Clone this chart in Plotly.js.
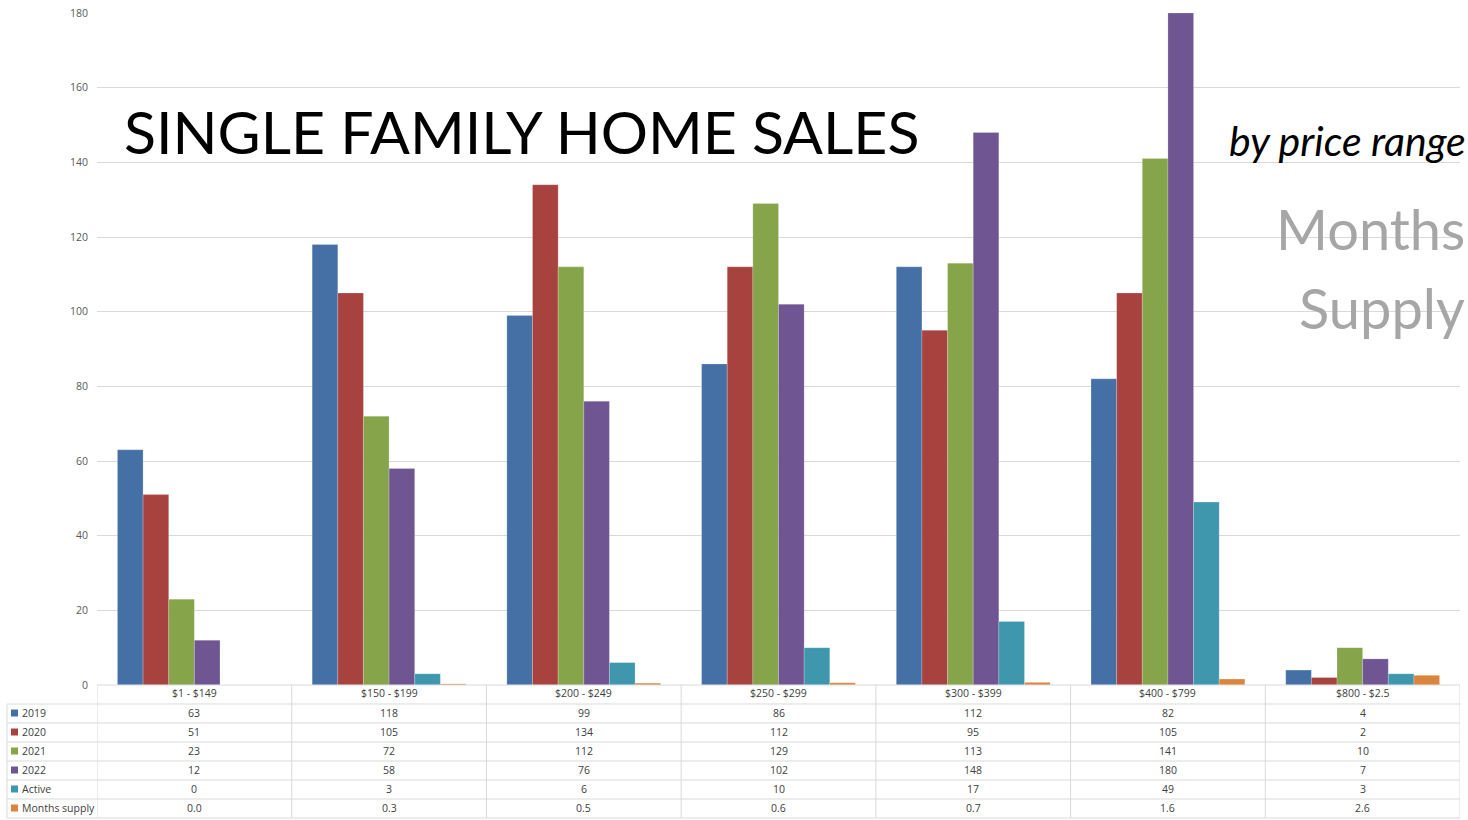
<!DOCTYPE html>
<html><head><meta charset="utf-8">
<script src="https://cdn.plot.ly/plotly-3.0.1.min.js"></script>
<style>html,body{margin:0;padding:0;background:#fff}#chart{width:1468px;height:820px}</style>
</head><body><div id="chart"></div>
<script>
var categories = ["$1 - $149", "$150 - $199", "$200 - $249", "$250 - $299", "$300 - $399", "$400 - $799", "$800 - $2.5"];
var sales2019 = [63, 118, 99, 86, 112, 82, 4];
var sales2020 = [51, 105, 134, 112, 95, 105, 2];
var sales2021 = [23, 72, 112, 129, 113, 141, 10];
var sales2022 = [12, 58, 76, 102, 148, 180, 7];
var active = [0, 3, 6, 10, 17, 49, 3];
var monthsSupply = [0.0, 0.3, 0.5, 0.6, 0.7, 1.6, 2.6];
var seriesNames = ["2019", "2020", "2021", "2022", "Active", "Months supply"];
var yTicks = [0, 20, 40, 60, 80, 100, 120, 140, 160, 180];

var colors = ["#4470a5", "#a8423f", "#86a44a", "#6f5592", "#3e97ad", "#db843d"];
var seriesData = [sales2019, sales2020, sales2021, sales2022, active, monthsSupply];

var L = 97, R = 1460, T = 13, B = 685;
function px(x){ return (x - L) / (R - L); }
function py(y){ return (B - y) / (B - T); }

var traces = seriesData.map(function(d, i){
  return {type: "bar", x: categories, y: d, name: seriesNames[i],
    marker: {color: colors[i], line: {color: "rgba(255,255,255,0.35)", width: 0.6}},
    hoverinfo: "x+y+name"};
});

var shapes = [], annotations = [];
var rowTops = [685, 704, 723, 742, 761, 780, 799, 818];
var gridCol = "#d9d9d9";
for (var r = 0; r < rowTops.length; r++) {
  shapes.push({type: "line", xref: "paper", yref: "paper",
    x0: r === 0 ? 0 : px(7), x1: 1, y0: py(rowTops[r]), y1: py(rowTops[r]),
    line: {color: gridCol, width: 1}});
}
shapes.push({type: "line", xref: "paper", yref: "paper", x0: px(7), x1: px(7), y0: py(704), y1: py(818), line: {color: gridCol, width: 1}});
for (var c = 0; c <= categories.length; c++) {
  shapes.push({type: "line", xref: "x", yref: "paper", x0: c - 0.5, x1: c - 0.5,
    y0: py(685), y1: py(818), line: {color: gridCol, width: 1}});
}
var tf = {family: "Open Sans, Lato, sans-serif", size: 10.5, color: "#404040"};
categories.forEach(function(cat, i){
  annotations.push({xref: "x", yref: "paper", x: i, y: py(693), text: cat.replace(/\$/g, "&#36;"),
    showarrow: false, xanchor: "center", yanchor: "middle", font: tf});
});
seriesData.forEach(function(d, s){
  var yc = (rowTops[s+1] + rowTops[s+2]) / 2 - 0.5;
  shapes.push({type: "rect", xref: "paper", yref: "paper", x0: px(11), x1: px(18),
    y0: py(yc + 3.5), y1: py(yc - 3.5), fillcolor: colors[s], line: {width: 0}});
  annotations.push({xref: "paper", yref: "paper", x: px(19.5), y: py(yc), text: seriesNames[s],
    showarrow: false, xanchor: "left", yanchor: "middle", font: tf});
  d.forEach(function(v, i){
    annotations.push({xref: "x", yref: "paper", x: i, y: py(yc),
      text: s === 5 ? v.toFixed(1) : String(v),
      showarrow: false, xanchor: "center", yanchor: "middle", font: tf});
  });
});
annotations.push({xref: "paper", yref: "paper", x: px(122), y: py(131), text: "SINGLE FAMILY HOME SALES",
  showarrow: false, xanchor: "left", yanchor: "middle", font: {family: "Lato, sans-serif", size: 59, color: "#000"}});
annotations.push({xref: "paper", yref: "paper", x: px(1227), y: py(140), text: "<i>by price range</i>",
  showarrow: false, xanchor: "left", yanchor: "middle", font: {family: "Lato, sans-serif", size: 41, color: "#000"}});
annotations.push({xref: "paper", yref: "paper", x: px(1467), y: py(229), text: "Months",
  showarrow: false, xanchor: "right", yanchor: "middle", font: {family: "Lato, sans-serif", size: 56, color: "#a6a6a6"}});
annotations.push({xref: "paper", yref: "paper", x: px(1467), y: py(307), text: "Supply",
  showarrow: false, xanchor: "right", yanchor: "middle", font: {family: "Lato, sans-serif", size: 56, color: "#a6a6a6"}});

var layout = {
  width: 1468, height: 820,
  margin: {l: L, r: 1468 - R, t: T, b: 820 - B},
  paper_bgcolor: "#fff", plot_bgcolor: "#fff",
  barmode: "group", bargap: 0.21, bargroupgap: 0,
  showlegend: false,
  xaxis: {type: "category", range: [-0.5, 6.5], showticklabels: false, showgrid: false, zeroline: false, showline: false, fixedrange: true},
  yaxis: {range: [0, 180], tickvals: yTicks, ticktext: yTicks.map(String), showgrid: true, gridcolor: "#d9d9d9", gridwidth: 1,
    zeroline: false, showline: false, ticks: "", ticklabelstandoff: 8,
    tickfont: {family: "Open Sans, sans-serif", size: 10.5, color: "#595959"}, fixedrange: true},
  shapes: shapes, annotations: annotations
};
Plotly.newPlot("chart", traces, layout, {displayModeBar: false, responsive: false});
</script></body></html>
